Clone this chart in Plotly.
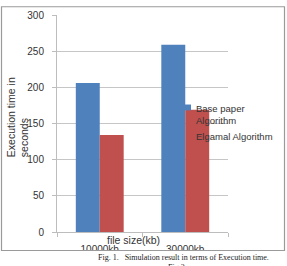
import plotly.graph_objects as go

categories = ["10000kb", "30000kb"]
series_names = ["Base paper Algorithm", "Elgamal Algorithm"]
base_values = [206, 259]
elgamal_values = [134, 169]
y_ticks = [0, 50, 100, 150, 200, 250, 300]
colors = ["#4F81BD", "#C0504D"]

W, H = 287, 266
L, R, T, B = 57, 228, 9, 232  # plot area in pixels


def px(x):
    return (x - L) / (R - L)


def py(y):
    return (B - y) / (B - T)


fig = go.Figure()
fig.add_trace(go.Bar(x=categories, y=base_values, name=series_names[0],
                     marker=dict(color=colors[0], line=dict(width=0))))
fig.add_trace(go.Bar(x=categories, y=elgamal_values, name=series_names[1],
                     marker=dict(color=colors[1], line=dict(width=0))))

font_main = "Liberation Sans, DejaVu Sans, sans-serif"

fig.update_layout(
    width=W, height=H,
    margin=dict(l=L, r=W - R, t=T, b=H - B, pad=0),
    paper_bgcolor="white", plot_bgcolor="white",
    barmode="group", bargap=0.44, bargroupgap=0,
    showlegend=False,
    font=dict(family=font_main, size=10, color="#333"),
)
fig.update_yaxes(range=[0, 300], tickvals=y_ticks, showgrid=True,
                 gridcolor="#c6c6c6", gridwidth=1, showline=True,
                 linecolor="#bdbdbd", linewidth=1, ticks="outside",
                 ticklen=4, tickcolor="#bdbdbd", ticklabelstandoff=6,
                 zeroline=False, tickfont=dict(size=10, color="#333"))
fig.update_xaxes(showline=True, linecolor="#bdbdbd", linewidth=1,
                 ticks="outside", tickson="boundaries", ticklen=4,
                 tickcolor="#bdbdbd", ticklabelstandoff=8,
                 tickfont=dict(size=10, color="#333"))

annotations = [
    dict(x=px(18), y=py(114), xref="paper", yref="paper",
         text="Execution time in<br>seconds", textangle=-90, align="left",
         showarrow=False, xanchor="center", yanchor="middle",
         font=dict(size=10.5, color="#333")),
    dict(x=px(133), y=py(240), xref="paper", yref="paper",
         text="file size(kb)", showarrow=False, xanchor="center",
         yanchor="middle", font=dict(size=10.5, color="#333")),
    dict(x=px(194), y=py(111), xref="paper", yref="paper",
         text="Base paper<br>Algorithm", align="left", showarrow=False,
         xanchor="left", yanchor="middle", font=dict(size=9.5, color="#333")),
    dict(x=px(194), y=py(134), xref="paper", yref="paper",
         text=series_names[1], align="left", showarrow=False,
         xanchor="left", yanchor="middle", font=dict(size=9.5, color="#333")),
    dict(x=px(183), y=py(258), xref="paper", yref="paper",
         text="Fig. 1.   Simulation result in terms of Execution time.",
         showarrow=False, xanchor="center", yanchor="middle",
         font=dict(family="Liberation Serif, serif", size=8, color="#222")),
    dict(x=px(176), y=py(268), xref="paper", yref="paper",
         text="Fig 2", showarrow=False, xanchor="center", yanchor="middle",
         font=dict(family="Liberation Serif, serif", size=8, color="#222")),
]
fig.update_layout(annotations=annotations)

shapes = [
    # white-out below the frame to clip tick labels
    dict(type="rect", xref="paper", yref="paper", layer="above",
         x0=px(0), x1=px(W), y0=py(251.5), y1=py(H + 2),
         fillcolor="white", line=dict(width=0)),
    # frame
    dict(type="rect", xref="paper", yref="paper", layer="above",
         x0=px(1.5), x1=px(284.5), y0=py(251), y1=py(0.5),
         line=dict(color="#9a9a9a", width=1.2)),
    # legend marker
    dict(type="rect", xref="paper", yref="paper", layer="above",
         x0=px(185), x1=px(191), y0=py(101), y1=py(107),
         fillcolor=colors[0], line=dict(width=0)),
]
fig.update_layout(shapes=shapes)

fig.write_html("out.html")
